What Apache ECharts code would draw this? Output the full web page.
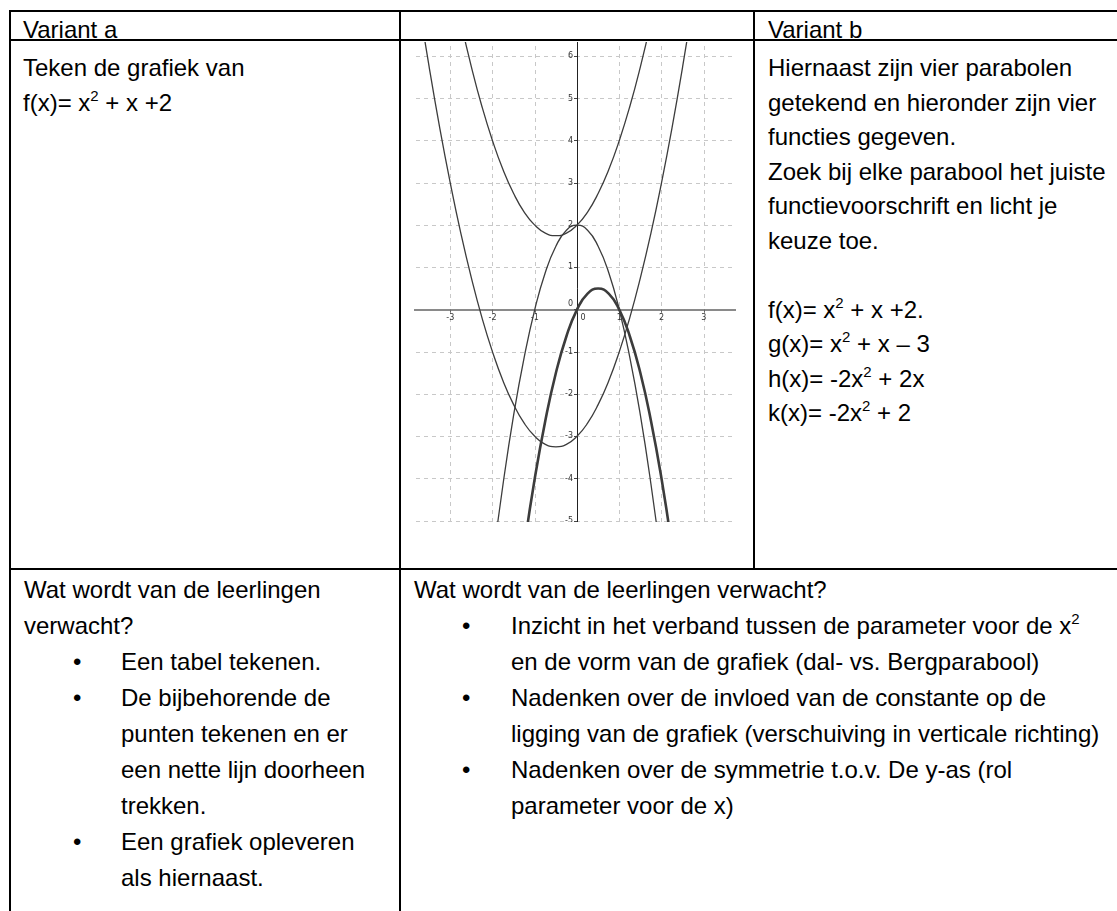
<!DOCTYPE html>
<html>
<head>
<meta charset="utf-8">
<script src="https://cdn.jsdelivr.net/npm/echarts@6/dist/echarts.min.js"></script>
<style>
html, body { margin: 0; padding: 0; background: #fff; width: 1117px; height: 911px; overflow: hidden; }
body { position: relative; font-family: "Liberation Sans", Arial, sans-serif; font-size: 24px; color: #000; }
.rule { position: absolute; background: #000; }
.ln { position: absolute; white-space: nowrap; line-height: 28px; height: 28px; }
.ln sup { font-size: 15px; line-height: 0; vertical-align: baseline; position: relative; top: -10px; }
#plotClip { position: absolute; left: 414px; top: 42px; width: 322px; height: 480px; overflow: hidden; background: #fff; }
#plot { position: absolute; left: -6.2px; top: -28.25px; width: 337.8px; height: 549.25px; }
</style>
</head>
<body>
<!-- table rules -->
<div class="rule" style="left:9px;top:10px;width:1108px;height:2px"></div>
<div class="rule" style="left:9px;top:39px;width:1108px;height:2px"></div>
<div class="rule" style="left:9px;top:568px;width:1108px;height:2px"></div>
<div class="rule" style="left:9px;top:10px;width:2px;height:901px"></div>
<div class="rule" style="left:399px;top:10px;width:2px;height:901px"></div>
<div class="rule" style="left:753px;top:10px;width:2px;height:560px"></div>

<!-- row 1 (line top = baseline - 22) -->
<div class="ln" style="left:23px;top:16px">Variant a</div>
<div class="ln" style="left:768px;top:16px">Variant b</div>

<!-- row 2, left -->
<div class="ln" style="left:23px;top:54px">Teken de grafiek van</div>
<div class="ln" style="left:23px;top:88.5px">f(x)= x<sup>2</sup> + x +2</div>

<!-- row 2, right -->
<div class="ln" style="left:768px;top:54px">Hiernaast zijn vier parabolen</div>
<div class="ln" style="left:768px;top:88.5px">getekend en hieronder zijn vier</div>
<div class="ln" style="left:768px;top:123px">functies gegeven.</div>
<div class="ln" style="left:768px;top:157.5px">Zoek bij elke parabool het juiste</div>
<div class="ln" style="left:768px;top:192px">functievoorschrift en licht je</div>
<div class="ln" style="left:768px;top:226.5px">keuze toe.</div>
<div class="ln" style="left:768px;top:295.5px">f(x)= x<sup>2</sup> + x +2.</div>
<div class="ln" style="left:768px;top:330px">g(x)= x<sup>2</sup> + x – 3</div>
<div class="ln" style="left:768px;top:364.5px">h(x)= -2x<sup>2</sup> + 2x</div>
<div class="ln" style="left:768px;top:399px">k(x)= -2x<sup>2</sup> + 2</div>

<!-- row 3, left -->
<div class="ln" style="left:24px;top:576px">Wat wordt van de leerlingen</div>
<div class="ln" style="left:24px;top:612px">verwacht?</div>
<div class="ln" style="left:73px;top:648px">•</div>
<div class="ln" style="left:121px;top:648px">Een tabel tekenen.</div>
<div class="ln" style="left:73px;top:684px">•</div>
<div class="ln" style="left:121px;top:684px">De bijbehorende de</div>
<div class="ln" style="left:121px;top:720px">punten tekenen en er</div>
<div class="ln" style="left:121px;top:756px">een nette lijn doorheen</div>
<div class="ln" style="left:121px;top:792px">trekken.</div>
<div class="ln" style="left:73px;top:828px">•</div>
<div class="ln" style="left:121px;top:828px">Een grafiek opleveren</div>
<div class="ln" style="left:121px;top:864px">als hiernaast.</div>

<!-- row 3, right -->
<div class="ln" style="left:414px;top:576px">Wat wordt van de leerlingen verwacht?</div>
<div class="ln" style="left:462px;top:612px">•</div>
<div class="ln" style="left:511px;top:612px">Inzicht in het verband tussen de parameter voor de x<sup>2</sup></div>
<div class="ln" style="left:511px;top:648px">en de vorm van de grafiek (dal- vs. Bergparabool)</div>
<div class="ln" style="left:462px;top:684px">•</div>
<div class="ln" style="left:511px;top:684px">Nadenken over de invloed van de constante op de</div>
<div class="ln" style="left:511px;top:720px">ligging van de grafiek (verschuiving in verticale richting)</div>
<div class="ln" style="left:462px;top:756px">•</div>
<div class="ln" style="left:511px;top:756px">Nadenken over de symmetrie t.o.v. De y-as (rol</div>
<div class="ln" style="left:511px;top:792px">parameter voor de x)</div>

<div id="plotClip"><div id="plot"></div></div>

<script>
const fPoints = [[-3, 8], [-2.75, 6.81], [-2.5, 5.75], [-2.25, 4.81], [-2, 4], [-1.75, 3.31], [-1.5, 2.75],
  [-1.25, 2.31], [-1, 2], [-0.75, 1.81], [-0.5, 1.75], [-0.25, 1.81], [0, 2], [0.25, 2.31], [0.5, 2.75],
  [0.75, 3.31], [1, 4], [1.25, 4.81], [1.5, 5.75], [1.75, 6.81], [2, 8]];
const gPoints = [[-4, 9], [-3.75, 7.31], [-3.5, 5.75], [-3.25, 4.31], [-3, 3], [-2.75, 1.81], [-2.5, 0.75],
  [-2.25, -0.19], [-2, -1], [-1.75, -1.69], [-1.5, -2.25], [-1.25, -2.69], [-1, -3], [-0.75, -3.19],
  [-0.5, -3.25], [-0.25, -3.19], [0, -3], [0.25, -2.69], [0.5, -2.25], [0.75, -1.69], [1, -1],
  [1.25, -0.19], [1.5, 0.75], [1.75, 1.81], [2, 3], [2.25, 4.31], [2.5, 5.75], [2.75, 7.31], [3, 9]];
const hPoints = [[-1.5, -7.5], [-1.25, -5.63], [-1, -4], [-0.75, -2.63], [-0.5, -1.5], [-0.25, -0.63], [0, 0],
  [0.25, 0.38], [0.5, 0.5], [0.75, 0.38], [1, 0], [1.25, -0.63], [1.5, -1.5], [1.75, -2.63], [2, -4],
  [2.25, -5.63], [2.5, -7.5]];
const kPoints = [[-2.25, -8.13], [-2, -6], [-1.75, -4.13], [-1.5, -2.5], [-1.25, -1.13], [-1, 0], [-0.75, 0.88],
  [-0.5, 1.5], [-0.25, 1.88], [0, 2], [0.25, 1.88], [0.5, 1.5], [0.75, 0.88], [1, 0], [1.25, -1.13],
  [1.5, -2.5], [1.75, -4.13], [2, -6], [2.25, -8.13]];

// axis ranges of the drawing (the visible window is cut out of this by the clip box)
const xRange = [-4, 4];
const yRange = [-6, 7];

const curveColor = '#3c3c3c';
const gridStyle = { color: '#c8c8c8', width: 1, type: [4, 4] };
const labelStyle = { fontSize: 8, color: '#333', fontFamily: 'DejaVu Sans' };

function curve(name, points, width) {
  return {
    name: name,
    type: 'line',
    data: points,
    smooth: true,
    showSymbol: false,
    clip: true,
    lineStyle: { color: curveColor, width: width },
  };
}

const plotDom = document.getElementById('plot');
const unitX = plotDom.clientWidth / (xRange[1] - xRange[0]);
const unitY = plotDom.clientHeight / (yRange[1] - yRange[0]);

const chart = echarts.init(plotDom);
chart.setOption({
  animation: false,
  grid: { left: 0, right: 0, top: 0, bottom: 0, containLabel: false, outerBoundsMode: 'none' },
  xAxis: {
    type: 'value',
    min: xRange[0],
    max: xRange[1],
    interval: 1,
    position: 'bottom',
    // move the axis up to y = 0
    offset: yRange[0] * unitY,
    axisLine: { onZero: false, lineStyle: { color: '#8a8a8a', width: 2 } },
    axisTick: { show: true, length: 3, lineStyle: { color: '#666' } },
    axisLabel: Object.assign({}, labelStyle, {
      margin: 4,
      showMinLabel: false,
      showMaxLabel: false,
      formatter: (v) => (v === 0 ? '{z|0}' : String(v)),
      rich: { z: Object.assign({}, labelStyle, { padding: [0, 0, 0, 12] }) },
    }),
    splitLine: { show: true, lineStyle: gridStyle },
  },
  yAxis: {
    type: 'value',
    min: yRange[0],
    max: yRange[1],
    interval: 1,
    position: 'left',
    // move the axis right to x = 0
    offset: xRange[0] * unitX,
    axisLine: { onZero: false, lineStyle: { color: '#222', width: 1 } },
    axisTick: { show: true, length: 3, lineStyle: { color: '#444' } },
    axisLabel: Object.assign({}, labelStyle, {
      margin: 4,
      showMinLabel: false,
      showMaxLabel: false,
      formatter: (v) => (v === 0 ? '{z|0}' : String(v)),
      rich: { z: Object.assign({}, labelStyle, { padding: [0, 0, 11, 0] }) },
    }),
    splitLine: { show: true, lineStyle: gridStyle },
  },
  series: [
    curve('f', fPoints, 1.3),
    curve('g', gPoints, 1.3),
    curve('h', hPoints, 2.6),
    curve('k', kPoints, 1.3),
  ],
});
</script>
</body>
</html>
